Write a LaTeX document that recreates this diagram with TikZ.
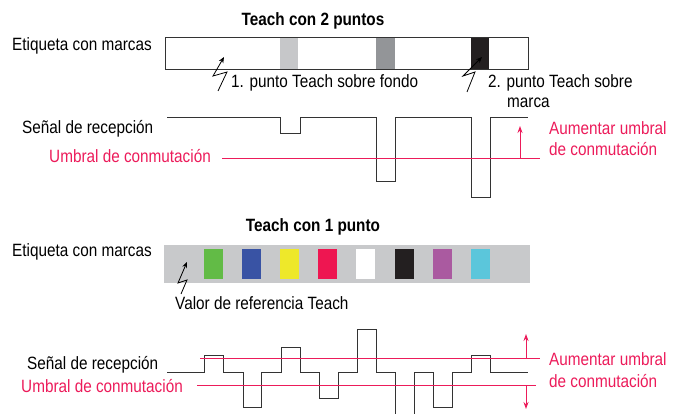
\documentclass[tikz,border=0pt]{standalone}
\usepackage{fontspec}
\setmainfont{Liberation Sans}[FakeStretch=0.86]
\usetikzlibrary{arrows.meta}
\definecolor{umbral}{HTML}{EC1B5A}
\definecolor{signal}{HTML}{333333}
\definecolor{barbg}{HTML}{C8C9CB}
\definecolor{mlight}{HTML}{C6C7C9}
\definecolor{mmid}{HTML}{939598}
\definecolor{mblack}{HTML}{231F20}
\definecolor{mgreen}{HTML}{62BB46}
\definecolor{mblue}{HTML}{3953A4}
\definecolor{myellow}{HTML}{EEE82A}
\definecolor{mred}{HTML}{EE1651}
\definecolor{mpurple}{HTML}{AA5AA0}
\definecolor{mcyan}{HTML}{5BC6DB}
\newcommand{\lblfont}{\fontsize{17.8}{21}\selectfont}
\tikzset{
  lbl/.style={anchor=base west, inner sep=0pt, font=\lblfont},
  rlbl/.style={lbl, text=umbral},
  title/.style={anchor=base, inner sep=0pt, font=\lblfont\bfseries},
  sig/.style={signal, line width=1pt},
  thr/.style={umbral, line width=1.2pt},
  flash/.style={black, line width=0.8pt, -{Stealth[length=6pt,width=5pt]}},
  thrarrow/.style={umbral, line width=1pt, -{Stealth[length=7pt,width=5pt]}}
}
\begin{document}
\begin{tikzpicture}[x=1pt,y=-1pt]
  \useasboundingbox (0,0) rectangle (683,414);
  % Teach con 2 puntos
  \node[title] (titleA) at (313,26) {Teach con 2 puntos};
  \node[lbl] (labelA) at (12,51) {Etiqueta con marcas};
  \fill[white] (165,38) rectangle (528,70);
  \fill[mlight] (280,38) rectangle (298,70);
  \fill[mmid] (376,38) rectangle (395,70);
  \fill[mblack] (471,38) rectangle (489,70);
  \draw[sig] (165,38) rectangle (528,70);
  % Teach points
  \coordinate (tipA) at (224,57);
  \coordinate (tipB) at (482,57);
  \draw[flash] (218,91) -- (227,72) -- (213,76) -- (tipA);
  \draw[flash] (467,92) -- (475,72) -- (463,76) -- (tipB);
  \node[lbl] (pointA) at (231,88) {1. punto Teach sobre fondo};
  \node[lbl] (pointB) at (488,88) {2. punto Teach sobre};
  \node[lbl] (pointBb) at (507,108) {marca};
  % Signal
  \node[lbl] (rxA) at (22,134) {Señal de recepción};
  \draw[sig] (167,118) -- (280,118) -- (280,134) -- (300,134) -- (300,118)
    -- (376,118) -- (376,182) -- (395,182) -- (395,118)
    -- (471,118) -- (471,198) -- (490,198) -- (490,118) -- (528,118);
  \node[rlbl] (thrA) at (49,163) {Umbral de conmutación};
  \draw[thr] (222,158.5) -- (540,158.5);
  \draw[thrarrow] (520,158.5) -- (520,126);
  \node[rlbl] (upA) at (549,135) {Aumentar umbral};
  \node[rlbl] (upAb) at (549,156) {de conmutación};

  % Teach con 1 punto
  \node[title] (titleB) at (313,232) {Teach con 1 punto};
  \node[lbl] (labelB) at (12,257) {Etiqueta con marcas};
  \fill[barbg] (164,245) rectangle (530,283);
  \foreach \col [count=\i from 0] in {mgreen,mblue,myellow,mred,white,mblack,mpurple,mcyan}
    \fill[\col] (204+38.1*\i,249) rectangle ++(19,30);
  \coordinate (tipC) at (187,262);
  \draw[flash] (181,294) -- (187,280) -- (178,283) -- (tipC);
  \node[lbl] (refC) at (175,309) {Valor de referencia Teach};
  % Signal
  \node[lbl] (rxB) at (27,369) {Señal de recepción};
  \draw[sig] (167,372) -- (204,372) -- (204,355) -- (223,355) -- (223,372)
    -- (243,372) -- (243,407) -- (261,407) -- (261,372)
    -- (281,372) -- (281,347) -- (300,347) -- (300,372)
    -- (319,372) -- (319,398) -- (338,398) -- (338,372)
    -- (357,372) -- (357,329) -- (376,329) -- (376,372)
    -- (395,372) -- (395,430) -- (414,430) -- (414,372)
    -- (433,372) -- (433,407) -- (452,407) -- (452,372)
    -- (471,372) -- (471,355) -- (490,355) -- (490,372) -- (528,372);
  \node[rlbl] (thrB) at (21,392) {Umbral de conmutación};
  \draw[thr] (200,358.5) -- (540,358.5);
  \draw[thr] (197,385.5) -- (536,385.5);
  \draw[thrarrow] (526,358.5) -- (526,334);
  \draw[thrarrow] (526,385.5) -- (526,409);
  \node[rlbl] (upB) at (549,365) {Aumentar umbral};
  \node[rlbl] (upBb) at (549,387) {de conmutación};
\end{tikzpicture}
\end{document}
